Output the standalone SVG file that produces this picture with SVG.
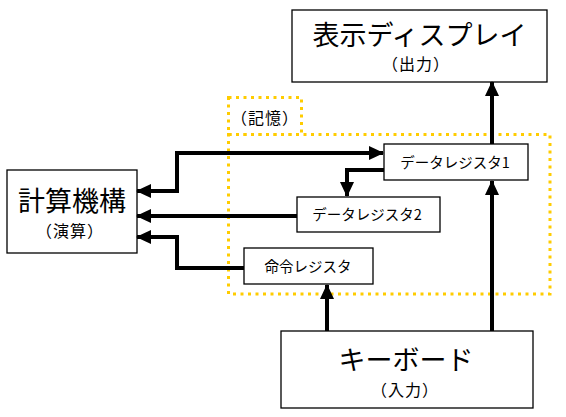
<svg xmlns="http://www.w3.org/2000/svg" width="566" height="417" viewBox="0 0 566 417">
<style>
.box{fill:#fff;stroke:#000;stroke-width:1.3}
.t{font-family:"Noto Sans CJK JP","Liberation Sans",sans-serif;fill:#000;text-anchor:middle}
.big{font-size:27px}
.sub{font-size:16px;letter-spacing:1px}
.reg{font-size:14.5px}
.mem{fill:none;stroke:#FFCC00;stroke-width:3;stroke-dasharray:3 4.5}
.c{fill:none;stroke:#000;stroke-width:4}
</style>
<defs>
<marker id="ah" viewBox="0 0 15 14" refX="14" refY="7" markerWidth="15" markerHeight="14" markerUnits="userSpaceOnUse" orient="auto-start-reverse">
<path d="M0,0 L15,7 L0,14 z" fill="#000"/>
</marker>
</defs>
<g id="memory">
<rect class="mem" x="228.5" y="97.5" width="73" height="37"/>
<rect class="mem" x="228.5" y="134.5" width="321.5" height="159.5"/>
<text class="t sub" x="265" y="124">（記憶）</text>
</g>
<g id="display">
<rect class="box" x="292" y="10" width="255" height="72"/>
<text class="t big" x="419.5" y="45">表示ディスプレイ</text>
<text class="t sub" x="416" y="70">（出力）</text>
</g>
<g id="compute">
<rect class="box" x="7" y="170" width="130" height="83"/>
<text class="t big" x="72" y="211">計算機構</text>
<text class="t sub" x="70" y="237">（演算）</text>
</g>
<g id="dr1">
<rect class="box" x="384" y="144" width="144" height="36"/>
<text class="t reg" x="455" y="168">データレジスタ1</text>
</g>
<g id="dr2">
<rect class="box" x="297" y="197" width="143" height="35"/>
<text class="t reg" x="367" y="220">データレジスタ2</text>
</g>
<g id="ir">
<rect class="box" x="244" y="248" width="129" height="36"/>
<text class="t reg" x="308" y="272">命令レジスタ</text>
</g>
<g id="keyboard">
<rect class="box" x="281" y="331" width="252" height="77"/>
<text class="t big" x="406" y="370">キーボード</text>
<text class="t sub" x="405" y="396">（入力）</text>
</g>
<g id="connectors">
<path class="c" d="M383,153 H177 V191 H137" marker-start="url(#ah)" marker-end="url(#ah)"/>
<path class="c" d="M297,216 H137" marker-end="url(#ah)"/>
<path class="c" d="M244,268 H177 V237 H137" marker-end="url(#ah)"/>
<path class="c" d="M384,170 H347 V196" marker-end="url(#ah)"/>
<path class="c" d="M327,331 V285" marker-end="url(#ah)"/>
<path class="c" d="M492,331 V181" marker-end="url(#ah)"/>
<path class="c" d="M492,144 V82" marker-end="url(#ah)"/>
</g>
</svg>
